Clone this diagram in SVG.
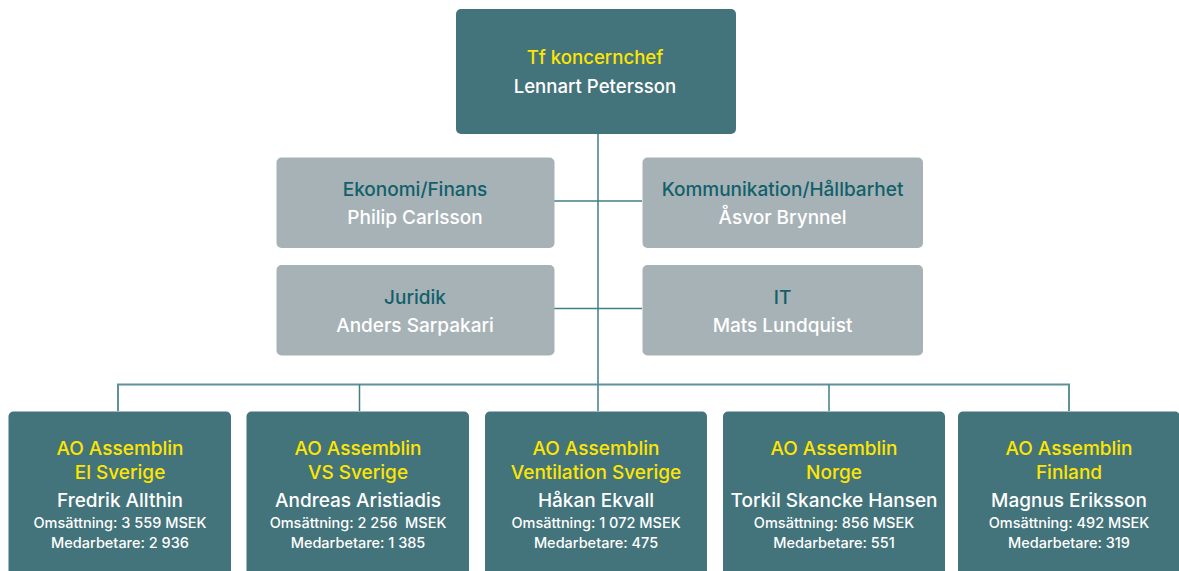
<svg xmlns="http://www.w3.org/2000/svg" width="1179" height="571" viewBox="0 0 1179 571">
<style>
.dark{fill:#43737B}
.gray{fill:#A7B2B7}
.t{font-family:Inter,"Liberation Sans",sans-serif;font-weight:500;text-anchor:middle}
.y{fill:#FFE600;font-size:19px}
.w{fill:#FFFFFF;font-size:19px}
.ws{fill:#FFFFFF;font-size:14.5px}
.tt{fill:#11606A;font-size:19px}
.top{font-size:18.6px}
.ln{stroke:#3F7F86;stroke-width:1.5;fill:none}
.ln2{stroke:#5E9198;stroke-width:2;fill:none}
</style>
<rect width="1179" height="571" fill="#FFFFFF"/>
<g id="connectors">
<line class="ln" x1="598" y1="134" x2="598" y2="384"/>
<line class="ln" x1="554" y1="201" x2="642" y2="201"/>
<line class="ln" x1="554" y1="308.5" x2="642" y2="308.5"/>
<polyline class="ln2" points="118,411 118,384.5 1069,384.5 1069,411"/>
<line class="ln" x1="359.5" y1="384.5" x2="359.5" y2="411"/>
<line class="ln" x1="598" y1="384.5" x2="598" y2="411"/>
<line class="ln" x1="829" y1="384.5" x2="829" y2="411"/>
</g>
<g id="ceo">
<rect class="dark" x="456" y="9" width="280" height="125" rx="5"/>
<text class="t y top" x="595" y="64">Tf koncernchef</text>
<text class="t w top" x="595" y="92.5">Lennart Petersson</text>
</g>
<g id="ekonomi">
<rect class="gray" x="276.5" y="157.5" width="278" height="90.5" rx="5"/>
<text class="t tt" x="415" y="196">Ekonomi/Finans</text>
<text class="t w" x="415" y="224">Philip Carlsson</text>
</g>
<g id="kommunikation">
<rect class="gray" x="642.5" y="157.5" width="280.5" height="90.5" rx="5"/>
<text class="t tt" x="782.5" y="196">Kommunikation/Hållbarhet</text>
<text class="t w" x="782.5" y="224">Åsvor Brynnel</text>
</g>
<g id="juridik">
<rect class="gray" x="276.5" y="265" width="278" height="90.5" rx="5"/>
<text class="t tt" x="415" y="304">Juridik</text>
<text class="t w" x="415" y="332">Anders Sarpakari</text>
</g>
<g id="it">
<rect class="gray" x="642.5" y="265" width="280.5" height="90.5" rx="5"/>
<text class="t tt" x="782.5" y="304">IT</text>
<text class="t w" x="782.5" y="332">Mats Lundquist</text>
</g>
<g id="ao-el">
<rect class="dark" x="8.5" y="411.5" width="222.5" height="180" rx="5"/>
<text class="t y" x="120" y="455">AO Assemblin</text>
<text class="t y" x="120" y="479">El Sverige</text>
<text class="t w" x="120" y="506.5">Fredrik Allthin</text>
<text class="t ws" x="120" y="527.5">Omsättning: 3 559 MSEK</text>
<text class="t ws" x="120" y="547.5">Medarbetare: 2 936</text>
</g>
<g id="ao-vs">
<rect class="dark" x="246.5" y="411.5" width="222.5" height="180" rx="5"/>
<text class="t y" x="358" y="455">AO Assemblin</text>
<text class="t y" x="358" y="479">VS Sverige</text>
<text class="t w" x="358" y="506.5">Andreas Aristiadis</text>
<text class="t ws" x="358" y="527.5" xml:space="preserve">Omsättning: 2 256  MSEK</text>
<text class="t ws" x="358" y="547.5">Medarbetare: 1 385</text>
</g>
<g id="ao-ventilation">
<rect class="dark" x="485" y="411.5" width="222" height="180" rx="5"/>
<text class="t y" x="596" y="455">AO Assemblin</text>
<text class="t y" x="596" y="479">Ventilation Sverige</text>
<text class="t w" x="596" y="506.5">Håkan Ekvall</text>
<text class="t ws" x="596" y="527.5">Omsättning: 1 072 MSEK</text>
<text class="t ws" x="596" y="547.5">Medarbetare: 475</text>
</g>
<g id="ao-norge">
<rect class="dark" x="723" y="411.5" width="222" height="180" rx="5"/>
<text class="t y" x="834" y="455">AO Assemblin</text>
<text class="t y" x="834" y="479">Norge</text>
<text class="t w" x="834" y="506.5">Torkil Skancke Hansen</text>
<text class="t ws" x="834" y="527.5">Omsättning: 856 MSEK</text>
<text class="t ws" x="834" y="547.5">Medarbetare: 551</text>
</g>
<g id="ao-finland">
<rect class="dark" x="958" y="411.5" width="222" height="180" rx="5"/>
<text class="t y" x="1069" y="455">AO Assemblin</text>
<text class="t y" x="1069" y="479">Finland</text>
<text class="t w" x="1069" y="506.5">Magnus Eriksson</text>
<text class="t ws" x="1069" y="527.5">Omsättning: 492 MSEK</text>
<text class="t ws" x="1069" y="547.5">Medarbetare: 319</text>
</g>
</svg>
